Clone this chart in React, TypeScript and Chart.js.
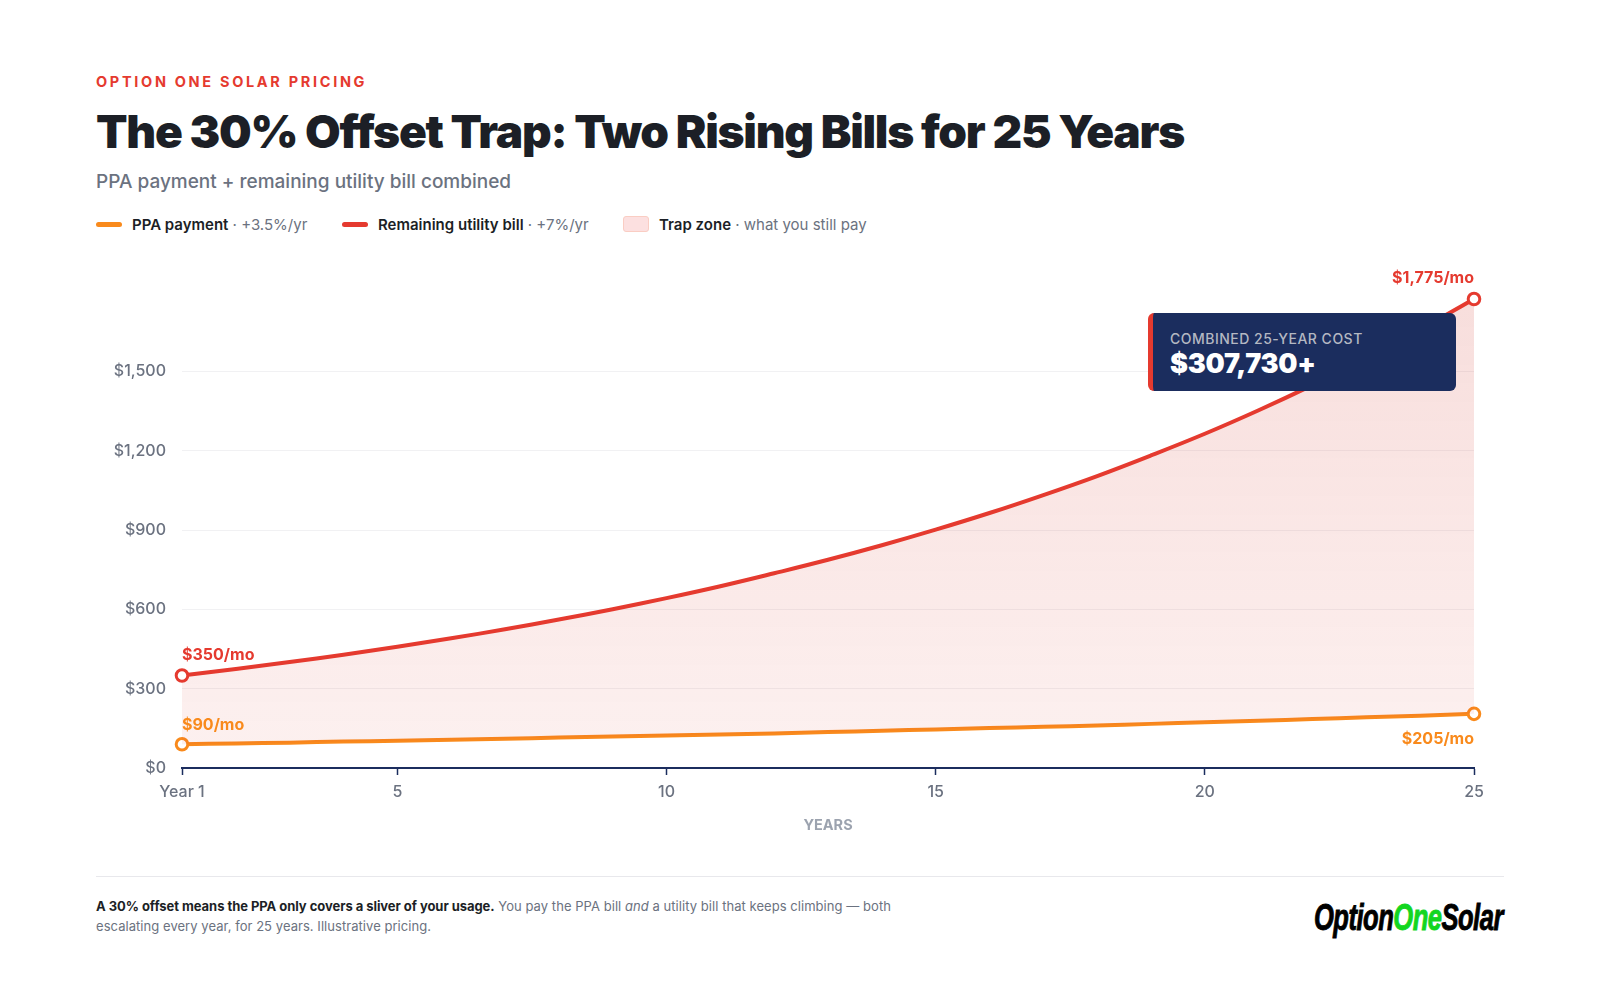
import React, { useEffect, useRef } from "react";
import { Chart, registerables } from "chart.js";

Chart.register(...registerables);

const years = [1,2,3,4,5,6,7,8,9,10,11,12,13,14,15,16,17,18,19,20,21,22,23,24,25];
const utilityBill = [350,375,401,429,459,491,525,562,601,643,688,737,788,843,902,965,1033,1105,1183,1265,1354,1449,1550,1659,1775];
const ppaPayment = [90,93,96,100,103,107,111,115,119,123,127,131,136,141,146,151,156,161,167,173,179,185,192,198,205];
const xTicks = [1,5,10,15,20,25];
const yTicks = [0,300,600,900,1200,1500];

const RED = "#e53a2f";
const ORANGE = "#f98a1c";
const NAVY = "#1b2d5e";
const FONT = "Inter, sans-serif";

const endLabels = [
  { ds: 0, i: 0, text: "$350/mo", align: "left", dy: -20.5 },
  { ds: 0, i: 24, text: "$1,775/mo", align: "right", dy: -21 },
  { ds: 1, i: 0, text: "$90/mo", align: "left", dy: -19.5 },
  { ds: 1, i: 24, text: "$205/mo", align: "right", dy: 25 },
];

const labelPlugin = {
  id: "endLabels",
  afterDatasetsDraw(chart: any) {
    const { ctx } = chart;
    ctx.save();
    ctx.font = `700 16px ${FONT}`;
    ctx.textBaseline = "middle";
    for (const l of endLabels) {
      const el = chart.getDatasetMeta(l.ds).data[l.i];
      ctx.fillStyle = l.ds === 0 ? RED : ORANGE;
      ctx.textAlign = l.align;
      ctx.fillText(l.text, el.x, el.y + l.dy);
    }
    ctx.restore();
  },
};

const endpoints = (ctx: any, r: number) =>
  ctx.dataIndex === 0 || ctx.dataIndex === years.length - 1 ? r : 0;

export default function App() {
  const ref = useRef<HTMLCanvasElement>(null);
  useEffect(() => {
    document.body.style.margin = "0";
    document.body.style.background = "#fff";
    const canvas = ref.current!;
    const chart = new Chart(canvas, {
      type: "line",
      data: {
        labels: years,
        datasets: [
          {
            label: "Remaining utility bill",
            data: years.map((y, i) => ({ x: y, y: utilityBill[i] })),
            borderColor: RED,
            borderWidth: 4,
            tension: 0.4,
            pointBackgroundColor: "#fff",
            pointBorderColor: RED,
            pointBorderWidth: 3,
            pointRadius: (c: any) => endpoints(c, 5.8),
            clip: false,
            fill: { target: 1 },
            backgroundColor: (c: any) => {
              const a = c.chart.chartArea;
              if (!a) return "rgba(215,58,47,0.1)";
              const g = c.chart.ctx.createLinearGradient(0, a.top, 0, a.bottom);
              g.addColorStop(0, "rgba(210,58,47,0.17)");
              g.addColorStop(1, "rgba(220,58,47,0.07)");
              return g;
            },
          },
          {
            label: "PPA payment",
            data: years.map((y, i) => ({ x: y, y: ppaPayment[i] })),
            borderColor: ORANGE,
            borderWidth: 4,
            tension: 0.4,
            pointBackgroundColor: "#fff",
            pointBorderColor: ORANGE,
            pointBorderWidth: 3,
            pointRadius: (c: any) => endpoints(c, 5.8),
            clip: false,
            fill: false,
          },
        ],
      } as any,
      plugins: [labelPlugin],
      options: {
        animation: false,
        responsive: false,
        devicePixelRatio: 1,
        layout: { padding: { left: 0, right: 126, top: 39, bottom: 26 } },
        plugins: { legend: { display: false }, tooltip: { enabled: false } },
        scales: {
          x: {
            type: "linear",
            min: 1,
            max: 25,
            afterBuildTicks: (a: any) => { a.ticks = xTicks.map((v) => ({ value: v })); },
            afterFit: (a: any) => { a.height = 66; },
            grid: {
              drawOnChartArea: false,
              drawTicks: true,
              tickLength: 7,
              tickWidth: 1.5,
              tickColor: NAVY,
            },
            border: { color: NAVY, width: 2 },
            ticks: {
              maxRotation: 0,
              autoSkip: false,
              color: "#6b7280",
              font: { family: FONT, size: 16, weight: 500 },
              padding: 8,
              callback: (v: any) => (v === 1 ? "Year 1" : String(v)),
            },
            title: {
              display: true,
              text: "YEARS",
              color: "#9ca3af",
              font: { family: FONT, size: 14.5, weight: 700 },
              padding: { top: 19, bottom: 0 },
            },
          },
          y: {
            min: 0,
            max: 1775,
            afterBuildTicks: (a: any) => { a.ticks = yTicks.map((v) => ({ value: v })); },
            afterFit: (a: any) => { a.width = 182; },
            grid: { color: "#f1f1f3", lineWidth: 1, drawTicks: false },
            border: { display: false },
            ticks: {
              color: "#6b7280",
              font: { family: FONT, size: 16, weight: 500 },
              padding: 16,
              callback: (v: any) => "$" + Number(v).toLocaleString("en-US"),
            },
          },
        },
      } as any,
    });
    return () => chart.destroy();
  }, []);

  const abs = (s: React.CSSProperties): React.CSSProperties => ({ position: "absolute", whiteSpace: "nowrap", fontFamily: FONT, ...s });
  const swatch = (x: number, c: string) => (
    <div style={{ position: "absolute", left: x, top: 222, width: 26, height: 5, borderRadius: 3, background: c }} />
  );
  const legendText = (x: number, b: string, rest: string) => (
    <div style={abs({ left: x, top: 215, fontSize: 15, lineHeight: "20px", color: "#6b7280", fontWeight: 400 })}>
      <span style={{ color: "#1c1f26", fontWeight: 600 }}>{b}</span>{rest}
    </div>
  );

  return (
    <div style={{ position: "relative", width: 1600, height: 1000, background: "#fff", overflow: "hidden" }}>
      <div style={abs({ left: 96, top: 72, fontSize: 14.5, lineHeight: "20px", fontWeight: 700, letterSpacing: "0.185em", color: RED })}>OPTION ONE SOLAR PRICING</div>
      <div style={abs({ left: 96, top: 103, fontSize: 46, lineHeight: "56px", fontWeight: 900, letterSpacing: "-1.26px", color: "#1c1f26" })}>The 30% Offset Trap: Two Rising Bills for 25 Years</div>
      <div style={abs({ left: 96, top: 169, fontSize: 19, lineHeight: "26px", fontWeight: 500, color: "#6b7280" })}>PPA payment + remaining utility bill combined</div>

      {swatch(96, ORANGE)}
      {legendText(132, "PPA payment", " · +3.5%/yr")}
      {swatch(342, RED)}
      {legendText(378, "Remaining utility bill", " · +7%/yr")}
      <div style={{ position: "absolute", left: 623, top: 216, width: 26, height: 16, borderRadius: 3, background: "#fce0e0", border: "1px solid #facdc3", boxSizing: "border-box" }} />
      {legendText(659, "Trap zone", " · what you still pay")}

      <canvas ref={ref} width={1600} height={600} style={{ position: "absolute", left: 0, top: 260, width: 1600, height: 600 }} />

      <div style={{ position: "absolute", left: 1148, top: 313, width: 308, height: 78, boxSizing: "border-box", background: NAVY, borderLeft: `5px solid ${RED}`, borderRadius: 6 }} />
      <div style={abs({ left: 1170, top: 329, fontSize: 14, lineHeight: "20px", fontWeight: 500, letterSpacing: "0.035em", color: "#b4b8c2" })}>COMBINED 25-YEAR COST</div>
      <div style={abs({ left: 1170, top: 347, fontSize: 27, lineHeight: "34px", fontWeight: 900, letterSpacing: "-0.01em", color: "#fff" })}>$307,730+</div>

      <div style={{ position: "absolute", left: 96, top: 876, width: 1408, height: 1, background: "#e8e8ec" }} />
      <div style={abs({ left: 96, top: 896, fontSize: 13, lineHeight: "20px", color: "#6b7280", fontWeight: 400, letterSpacing: "0.05px" })}>
        <b style={{ color: "#1c1f26", fontWeight: 700, letterSpacing: "-0.05px" }}>A 30% offset means the PPA only covers a sliver of your usage.</b> You pay the PPA bill <i>and</i> a utility bill that keeps climbing — both<br />escalating every year, for 25 years. Illustrative pricing.
      </div>
      <div style={abs({ left: 1314, top: 898, fontFamily: "'Liberation Sans', sans-serif", fontSize: 36, lineHeight: "40px", fontWeight: 700, fontStyle: "italic", color: "#000", letterSpacing: "-0.02em", transform: "scaleX(0.71)", transformOrigin: "left center", WebkitTextStroke: "0.9px currentColor" })}>
        Option<span style={{ color: "#12d61f" }}>One</span>Solar
      </div>
    </div>
  );
}
